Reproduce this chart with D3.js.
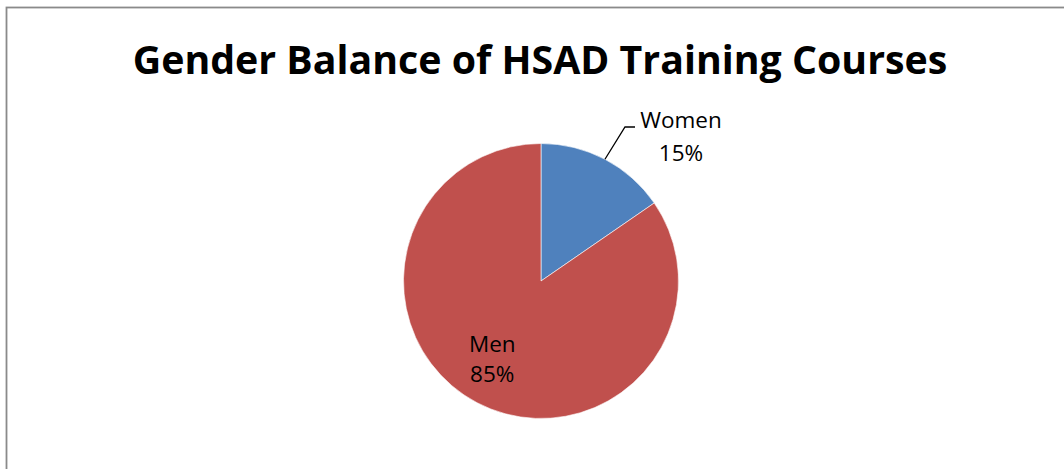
<!DOCTYPE html>
<html>
<head>
<meta charset="utf-8">
<script src="https://cdn.jsdelivr.net/npm/d3@7"></script>
<style>
  html, body { margin: 0; padding: 0; background: #fff; }
  svg { display: block; }
</style>
</head>
<body>
<svg id="chart" width="1064" height="469"></svg>
<script>
const title = "Gender Balance of HSAD Training Courses";
const categories = ["Women", "Men"];
const values = [15.4, 84.6];
const colors = ["#4F81BD", "#C0504D"];

const W = 1064, H = 469;
const svg = d3.select("#chart");

// outer chart border
svg.append("rect")
  .attr("x", 6.5).attr("y", 7.5)
  .attr("width", W + 20).attr("height", H + 20)
  .attr("fill", "#fff")
  .attr("stroke", "#8a8a8a")
  .attr("stroke-width", 1.8);

// title, sized to span the reference width
const t = svg.append("text")
  .attr("x", 540).attr("y", 73.5)
  .attr("text-anchor", "middle")
  .attr("font-family", "'Open Sans', sans-serif")
  .attr("font-weight", "bold")
  .attr("font-size", 40)
  .attr("fill", "#000")
  .text(title);
const tw = t.node().getComputedTextLength();
t.attr("font-size", 40 * 815 / tw);

const cx = 541, cy = 281, r = 137.5;
const total = d3.sum(values);
const data = categories.map((c, i) => ({ name: c, value: values[i], color: colors[i] }));

const pie = d3.pie().value(d => d.value).sort(null);
const arcs = pie(data);
const arc = d3.arc().innerRadius(0).outerRadius(r);
const labelArc = d3.arc().innerRadius(r * 0.7).outerRadius(r * 0.7);
const edgeArc = d3.arc().innerRadius(r).outerRadius(r);
const pct = d3.format(".0%");

const g = svg.append("g").attr("transform", `translate(${cx},${cy})`);

g.selectAll("path.slice")
  .data(arcs)
  .join("path")
  .attr("class", "slice")
  .attr("d", arc)
  .attr("fill", d => d.data.color)
  .attr("stroke", "#fff")
  .attr("stroke-width", 0.6);

const fontFam = "'Open Sans', sans-serif";
const fs = 22.5;

arcs.forEach((a, i) => {
  const lines = [a.data.name, pct(a.data.value / total)];
  if (i === 0) {
    // outside label with leader line
    const [ex, ey] = edgeArc.centroid(a);
    const elbow = [84, -154];
    const end = [94, -154];
    g.append("path")
      .attr("d", d3.line()([[ex, ey], elbow, end]))
      .attr("fill", "none")
      .attr("stroke", "#000")
      .attr("stroke-width", 1.3);
    const txt = g.append("text")
      .attr("text-anchor", "middle")
      .attr("font-family", fontFam)
      .attr("font-size", fs)
      .attr("fill", "#000");
    txt.append("tspan").attr("x", 140).attr("y", -153).text(lines[0]);
    txt.append("tspan").attr("x", 140).attr("y", -120.5).text(lines[1]);
  } else {
    const [lx, ly] = labelArc.centroid(a);
    const txt = g.append("text")
      .attr("text-anchor", "middle")
      .attr("font-family", fontFam)
      .attr("font-size", fs)
      .attr("fill", "#000");
    txt.append("tspan").attr("x", lx - 4).attr("y", ly - 14).text(lines[0]);
    txt.append("tspan").attr("x", lx - 4).attr("y", ly + 16).text(lines[1]);
  }
});
</script>
</body>
</html>
